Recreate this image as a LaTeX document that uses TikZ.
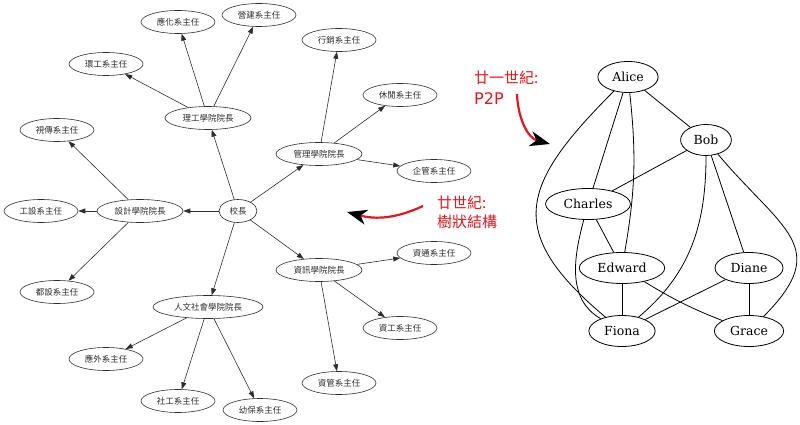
\documentclass[tikz,border=0pt]{standalone}
\usepackage{fontspec}
\usetikzlibrary{shapes.geometric}
\usetikzlibrary{arrows.meta}
\newfontfamily\cjk{Noto Sans CJK TC}
\newfontfamily\gserif{DejaVu Serif}
\newfontfamily\gsans{DejaVu Sans}
\definecolor{ln1}{RGB}{45,45,45}
\definecolor{rd1}{RGB}{226,24,32}

\begin{document}
\begin{tikzpicture}[
    x=1pt, y=1pt,
    e/.style={
        ellipse, draw=ln1, line width=0.6pt,
        inner xsep=4.9pt, inner ysep=1pt, minimum height=23pt,
        font={\cjk\fontsize{8.5}{9}\selectfont}, text=ln1
    },
    ar/.style={
        line width=0.6pt, color=ln1,
        -{Triangle[length=7pt,width=5pt]}
    },
    p/.style={
        ellipse, draw, line width=0.8pt,
        inner xsep=5.6pt, inner ysep=1pt, minimum height=31pt,
        font={\gserif\fontsize{12.5}{13}\selectfont}
    },
    l/.style={line width=0.8pt},
    ra/.style={
        color=rd1, line width=2.2pt,
        -{Stealth[length=20pt,width=15pt,inset=6pt,color=black]}
    },
    rt/.style={
        anchor=west, text=rd1, inner sep=0pt,
        font={\cjk\fontsize{15}{16}\selectfont}
    }
]
    \useasboundingbox (0,0) rectangle (800,-425);

    \node [e] (xz) at (238,-211) {校長};
    \node [e] (lg) at (208,-118) {理工學院院長};
    \node [e] (gl) at (319,-154) {管理學院院長};
    \node [e] (sj) at (140,-211) {設計學院院長};
    \node [e] (zx) at (319,-270) {資訊學院院長};
    \node [e] (rw) at (208,-307) {人文社會學院院長};
    \node [e] (yh) at (178,-22)  {應化系主任};
    \node [e] (yj) at (259,-15)  {營建系主任};
    \node [e] (hg) at (106,-64)  {環工系主任};
    \node [e] (xx) at (339,-40)  {行銷系主任};
    \node [e] (xl) at (400,-95)  {休閒系主任};
    \node [e] (qg) at (434,-171) {企管系主任};
    \node [e] (sc) at (57,-130)  {視傳系主任};
    \node [e] (gs) at (41,-211)  {工設系主任};
    \node [e] (ds) at (57,-292)  {都設系主任};
    \node [e] (zt) at (434,-253) {資通系主任};
    \node [e] (zg) at (400,-328) {資工系主任};
    \node [e] (zm) at (339,-383) {資管系主任};
    \node [e] (yw) at (106,-359) {應外系主任};
    \node [e] (sg) at (178,-401) {社工系主任};
    \node [e] (yb) at (260,-410) {幼保系主任};

    \draw (xz) edge [ar] (lg);
    \draw (xz) edge [ar] (gl);
    \draw (xz) edge [ar] (sj);
    \draw (xz) edge [ar] (zx);
    \draw (xz) edge [ar] (rw);
    \draw (lg) edge [ar] (yh);
    \draw (lg) edge [ar] (yj);
    \draw (lg) edge [ar] (hg);
    \draw (gl) edge [ar] (xx);
    \draw (gl) edge [ar] (xl);
    \draw (gl) edge [ar] (qg);
    \draw (sj) edge [ar] (sc);
    \draw (sj) edge [ar] (gs);
    \draw (sj) edge [ar] (ds);
    \draw (zx) edge [ar] (zt);
    \draw (zx) edge [ar] (zg);
    \draw (zx) edge [ar] (zm);
    \draw (rw) edge [ar] (yw);
    \draw (rw) edge [ar] (sg);
    \draw (rw) edge [ar] (yb);

    \node [p] (A) at (628,-77)  {Alice};
    \node [p] (B) at (706,-140) {Bob};
    \node [p] (C) at (588,-204) {Charles};
    \node [p] (E) at (622,-268) {Edward};
    \node [p] (D) at (749,-268) {Diane};
    \node [p] (F) at (622,-331) {Fiona};
    \node [p] (G) at (749,-331) {Grace};

    \draw (A) edge [l] (B);
    \draw (A) edge [l] (C);
    \draw (A) edge [l, bend left=8] (E);
    \draw (A) edge [l, out=225, in=140, looseness=1.5] (F);
    \draw (B) edge [l] (C);
    \draw (B) edge [l] (D);
    \draw (B) edge [l, out=-90, in=40] (F);
    \draw (B) edge [l, out=-50, in=45, looseness=1.5] (G);
    \draw (C) edge [l] (E);
    \draw (C) edge [l, out=-105, in=150] (F);
    \draw (E) edge [l] (F);
    \draw (E) edge [l, bend right=5] (G);
    \draw (D) edge [l] (F);
    \draw (D) edge [l] (G);

    % red notes
    \node [rt] (t21) at (474,-78)  {廿一世紀:};
    \node [rt, font={\gsans\fontsize{16}{17}\selectfont}] (p2p) at (474,-99) {P2P};
    \node [rt] (t20) at (437,-203) {廿世紀:};
    \node [rt] (tree) at (437,-222) {樹狀結構};

    \coordinate (s1) at (517,-94);
    \coordinate (e1) at (550,-144);
    \coordinate (s2) at (423,-206);
    \coordinate (e2) at (347,-212);
    \draw (s1) edge [ra, out=-88, in=165] (e1);
    \draw (s2) edge [ra, out=205, in=-15] (e2);

\end{tikzpicture}
\end{document}
